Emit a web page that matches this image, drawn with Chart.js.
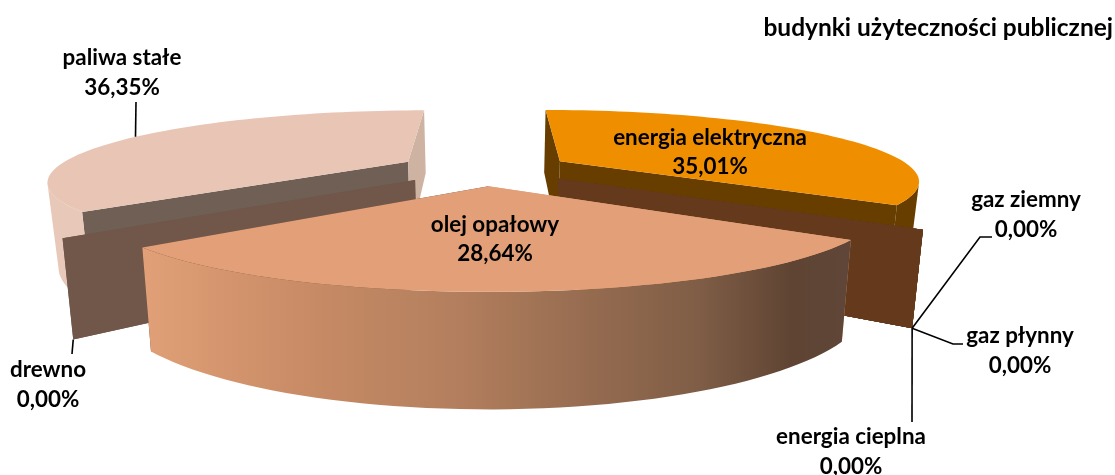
<!DOCTYPE html>
<html>
<head>
<meta charset="utf-8">
<style>
  html, body { margin: 0; padding: 0; background: #fff; }
  canvas { display: block; }
</style>
<script src="https://cdn.jsdelivr.net/npm/chart.js@4"></script>
</head>
<body>
<canvas id="pie3d" width="1115" height="475"></canvas>
<script>
const categories = ['energia elektryczna', 'gaz ziemny', 'gaz płynny', 'energia cieplna', 'olej opałowy', 'drewno', 'paliwa stałe'];
const shares = [35.01, 0, 0, 0, 28.64, 0, 36.35];
const title = 'budynki użyteczności publicznej';

const topColors = ['#ef8f00', '#653a1c', '#653a1c', '#653a1c', '#e3a078', '#70574a', '#e8c5b4'];
const rimColors = ['#683e00', '#653a1c', '#653a1c', '#653a1c', null, '#70574a', '#e8c8b8'];
const startWallColors = ['#683e00', '#653a1c', '#653a1c', '#653a1c', '#e3a078', '#70574a', '#6f5f55'];
const endWallColors = ['#683e00', '#653a1c', '#653a1c', '#653a1c', '#5f4638', '#70574a', '#cfb3a2'];

// label centre x, first line y, second line y
const labelSpots = [[710, 138, 167], [1026, 200, 230], [1020, 336, 366], [851, 437, 467], [495, 225, 254], [48, 370, 400], [122, 58, 88]];
// extra leader points after the anchor on the pie, null = no leader
const leaders = [null, [[980, 237], [992, 237]], [[953, 344], [963, 344]], [[912, 422]], null, [[72, 354]], [[136, 102]]];

// camera fitted to the picture
const RADIUS = 440, EXPLODE = 108, ZERO_EXPLODE = 110, CX = -4, CZ = 342, DEPTH = 1380;
const VANISH_X = 488, BOTTOM_X = 490, BOTTOM_SHRINK = 0.975, HORIZON = -96, PLANE = 330, WALL = 100;

function project(x, z) {
  const w = DEPTH / (DEPTH + z);
  return { x: VANISH_X + x * w, y: HORIZON + PLANE * w, h: WALL * w };
}
function lower(p) {
  return { x: BOTTOM_X + (p.x - BOTTOM_X) * BOTTOM_SHRINK, y: p.y + p.h };
}

function sliceGeom(arc) {
  // chart.js angles start at 3 o'clock, pie here is measured from 12
  const a0 = arc.startAngle + Math.PI / 2, a1 = arc.endAngle + Math.PI / 2;
  const mid = (a0 + a1) / 2;
  const e = a1 - a0 > 0 ? EXPLODE : ZERO_EXPLODE;
  const ax = CX + e * Math.sin(mid), az = CZ + e * Math.cos(mid);
  const rim = [], front = [];
  const steps = Math.max(1, Math.round((a1 - a0) * 30));
  for (let s = 0; s <= steps; s++) {
    const t = a0 + (a1 - a0) * s / steps;
    const px = ax + RADIUS * Math.sin(t), pz = az + RADIUS * Math.cos(t);
    const p = project(px, pz);
    rim.push(p);
    // outward normal against the direction to the camera
    if (-px * Math.sin(t) + (-DEPTH - pz) * Math.cos(t) > 0) front.push(p);
  }
  return { apex: project(ax, az), az, ax, mid, rim, front };
}

function poly(ctx, pts, fill) {
  ctx.beginPath();
  pts.forEach((p, i) => i ? ctx.lineTo(p.x, p.y) : ctx.moveTo(p.x, p.y));
  ctx.closePath();
  ctx.fillStyle = fill;
  ctx.fill();
}

function rimGradient(ctx) {
  const grad = ctx.createLinearGradient(142, 0, 848, 0);
  grad.addColorStop(0, '#e1a077');
  grad.addColorStop(0.22, '#c98c66');
  grad.addColorStop(0.44, '#b47f5e');
  grad.addColorStop(0.65, '#936a4f');
  grad.addColorStop(0.79, '#7f5d46');
  grad.addColorStop(0.92, '#5f4433');
  grad.addColorStop(1, '#5f4638');
  return grad;
}

const pie3d = {
  id: 'pie3d',
  beforeDatasetDraw(chart) {
    const ctx = chart.ctx;
    const arcs = chart.getDatasetMeta(0).data;
    const order = arcs.map((arc, i) => ({ i, g: sliceGeom(arc) })).sort((a, b) => b.g.az - a.g.az);
    order.forEach(({ i, g }) => {
      const first = g.rim[0], last = g.rim[g.rim.length - 1];
      poly(ctx, [g.apex, first, lower(first), lower(g.apex)], startWallColors[i]);
      poly(ctx, [g.apex, last, lower(last), lower(g.apex)], endWallColors[i]);
      if (shares[i] > 0) {
        // only the part of the rim turned towards the viewer
        poly(ctx, g.front.concat(g.front.map(lower).reverse()), rimColors[i] || rimGradient(ctx));
        poly(ctx, [g.apex].concat(g.rim), topColors[i]);
      }
    });
    return false;
  },
  afterDraw(chart) {
    const ctx = chart.ctx;
    const arcs = chart.getDatasetMeta(0).data;
    ctx.save();
    ctx.strokeStyle = '#000';
    ctx.lineWidth = 1.6;
    arcs.forEach((arc, i) => {
      if (!leaders[i]) return;
      const g = sliceGeom(arc);
      let from;
      if (shares[i] > 0) {
        const t = g.mid + 0.015;
        from = project(g.ax + RADIUS * Math.sin(t), g.az + RADIUS * Math.cos(t));
      } else {
        from = lower(g.rim[g.rim.length - 1]);
      }
      ctx.beginPath();
      ctx.moveTo(from.x, from.y);
      leaders[i].forEach(p => ctx.lineTo(p[0], p[1]));
      ctx.stroke();
    });
    ctx.fillStyle = '#000';
    ctx.font = 'bold 22.4px Lato';
    ctx.textBaseline = 'middle';
    ctx.textAlign = 'center';
    categories.forEach((name, i) => {
      const spot = labelSpots[i];
      ctx.fillText(name, spot[0], spot[1]);
      ctx.fillText(shares[i].toFixed(2).replace('.', ',') + '%', spot[0], spot[2]);
    });
    ctx.textAlign = 'right';
    ctx.font = 'bold 24.5px Lato';
    ctx.fillText(title, 1113, 28);
    ctx.restore();
  }
};

new Chart(document.getElementById('pie3d').getContext('2d'), {
  type: 'pie',
  data: {
    labels: categories,
    datasets: [{ data: shares, backgroundColor: topColors, borderWidth: 0 }]
  },
  options: {
    responsive: false,
    animation: false,
    plugins: { legend: { display: false }, tooltip: { enabled: false } }
  },
  plugins: [pie3d]
});
</script>
</body>
</html>
